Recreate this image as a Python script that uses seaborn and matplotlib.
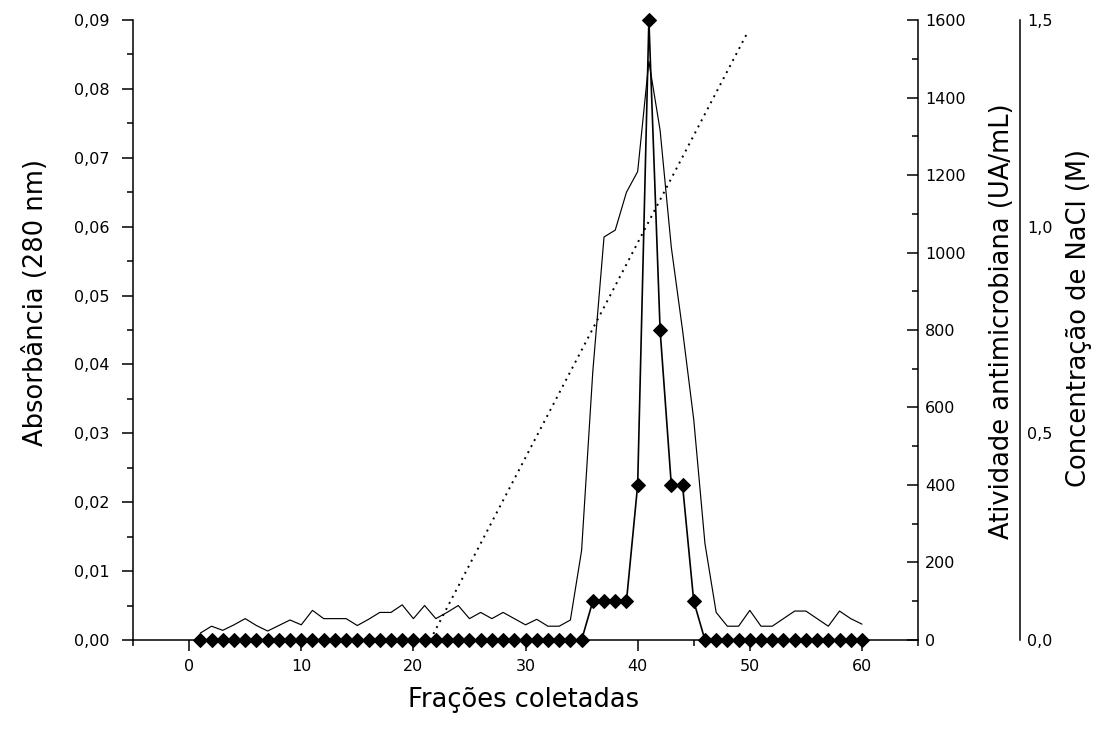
import matplotlib
matplotlib.use("Agg")
import matplotlib.pyplot as plt
import seaborn as sns
from matplotlib.ticker import MultipleLocator, FixedLocator, FixedFormatter

# ---------------- data ----------------
fractions = list(range(1, 61))
absorbance = [
    0.0010, 0.0020, 0.0014, 0.0022, 0.0031, 0.0021, 0.0013, 0.0021, 0.0029, 0.0022,
    0.0043, 0.0031, 0.0031, 0.0031, 0.0021, 0.0030, 0.0040, 0.0040, 0.0051, 0.0031,
    0.0050, 0.0031, 0.0040, 0.0050, 0.0031, 0.0040, 0.0031, 0.0040, 0.0031, 0.0022,
    0.0030, 0.0020, 0.0020, 0.0029, 0.0130, 0.0390, 0.0585, 0.0595, 0.0650, 0.0680,
    0.0840, 0.0740, 0.0570, 0.0450, 0.0320, 0.0140, 0.0040, 0.0020, 0.0020, 0.0043,
    0.0020, 0.0020, 0.0031, 0.0042, 0.0042, 0.0031, 0.0020, 0.0042, 0.0031, 0.0023,
]
activity = [0] * 35 + [100, 100, 100, 100, 400, 1600, 800, 400, 400, 100] + [0] * 15
nacl_fractions = [21.5, 49.8]
nacl_conc = [0.0, 1.47]

x_ticks = [0, 10, 20, 30, 40, 50, 60]
x_ticklabels = ["0", "10", "20", "30", "40", "50", "60"]
abs_ticks = [0.00, 0.01, 0.02, 0.03, 0.04, 0.05, 0.06, 0.07, 0.08, 0.09]
abs_ticklabels = ["0,00", "0,01", "0,02", "0,03", "0,04", "0,05", "0,06", "0,07", "0,08", "0,09"]
act_ticks = [0, 200, 400, 600, 800, 1000, 1200, 1400, 1600]
act_ticklabels = ["0", "200", "400", "600", "800", "1000", "1200", "1400", "1600"]
nacl_ticks = [0.0, 0.5, 1.0, 1.5]
nacl_ticklabels = ["0,0", "0,5", "1,0", "1,5"]

x_label = "Frações coletadas"
abs_label = "Absorbância (280 nm)"
act_label = "Atividade antimicrobiana (UA/mL)"
nacl_label = "Concentração de NaCl (M)"

# ---------------- style ----------------
sns.set_style("ticks")
plt.rcParams['font.family'] = ['DejaVu Sans']
TICK_FS = 11.5
LABEL_FS = 18.5
SPINE_LW = 1.1

fig = plt.figure(figsize=(10.96, 7.33), dpi=100)
ax = fig.add_axes([0.1214, 0.1269, 0.7162, 0.8458])
ax2 = ax.twinx()
ax3 = ax.twinx()

# absorbance (thin solid line)
sns.lineplot(x=fractions, y=absorbance, ax=ax, color="black", linewidth=0.85)
# activity (diamonds)
sns.lineplot(x=fractions, y=activity, ax=ax2, color="black", linewidth=1.2,
             marker="D", markersize=7.5, markeredgecolor="black", clip_on=False)
# NaCl gradient (dotted)
sns.lineplot(x=nacl_fractions, y=nacl_conc, ax=ax3, color="black", linewidth=1.4,
             linestyle=(0, (1, 2.5)))

# ---- primary axis ----
ax.set_xlim(-5, 65)
ax.set_ylim(0, 0.09)
ax.xaxis.set_major_locator(FixedLocator(x_ticks))
ax.xaxis.set_major_formatter(FixedFormatter(x_ticklabels))
ax.xaxis.set_minor_locator(MultipleLocator(5))
ax.yaxis.set_major_locator(FixedLocator(abs_ticks))
ax.yaxis.set_major_formatter(FixedFormatter(abs_ticklabels))
ax.yaxis.set_minor_locator(MultipleLocator(0.005))
ax.tick_params(axis="both", which="major", direction="out", length=8, width=SPINE_LW,
               labelsize=TICK_FS, colors="black")
ax.tick_params(axis="y", which="major", pad=9)
ax.tick_params(axis="x", which="major", pad=6)
ax.tick_params(axis="both", which="minor", direction="out", length=4, width=SPINE_LW,
               colors="black")
for s in ["top", "right"]:
    ax.spines[s].set_visible(False)
for s in ["left", "bottom"]:
    ax.spines[s].set_linewidth(SPINE_LW)
    ax.spines[s].set_color("black")
ax.set_xlabel(x_label, fontsize=LABEL_FS, color="black")
ax.set_ylabel(abs_label, fontsize=LABEL_FS, color="black")
ax.xaxis.set_label_coords(0.497, -0.076)
ax.yaxis.set_label_coords(-0.107, 0.545)

# ---- activity axis ----
ax2.set_xlim(-5, 65)
ax2.set_ylim(0, 1600)
ax2.yaxis.set_major_locator(FixedLocator(act_ticks))
ax2.yaxis.set_major_formatter(FixedFormatter(act_ticklabels))
ax2.yaxis.set_minor_locator(MultipleLocator(100))
ax2.tick_params(axis="y", which="major", direction="in", length=8, width=SPINE_LW,
                labelsize=TICK_FS, colors="black", pad=5)
ax2.tick_params(axis="y", which="minor", direction="in", length=4, width=SPINE_LW,
                colors="black")
for s in ["top", "left", "bottom"]:
    ax2.spines[s].set_visible(False)
ax2.spines["right"].set_linewidth(SPINE_LW)
ax2.spines["right"].set_color("black")
ax2.set_ylabel(act_label, fontsize=LABEL_FS, color="black")
ax2.yaxis.set_label_coords(1.09, 0.515)

# ---- NaCl axis ----
ax3.set_xlim(-5, 65)
ax3.set_ylim(0, 1.5)
ax3.spines["right"].set_position(("axes", 1.13))
for s in ["top", "left", "bottom"]:
    ax3.spines[s].set_visible(False)
ax3.spines["right"].set_linewidth(SPINE_LW)
ax3.spines["right"].set_color("black")
ax3.yaxis.set_major_locator(FixedLocator(nacl_ticks))
ax3.yaxis.set_major_formatter(FixedFormatter(nacl_ticklabels))
ax3.yaxis.set_minor_locator(FixedLocator([]))
ax3.tick_params(axis="y", which="major", length=0, labelsize=TICK_FS, colors="black", pad=5)
ax3.set_ylabel(nacl_label, fontsize=LABEL_FS, color="black")
ax3.yaxis.set_label_coords(1.189, 0.52)

fig.savefig("out.png", dpi=100)
